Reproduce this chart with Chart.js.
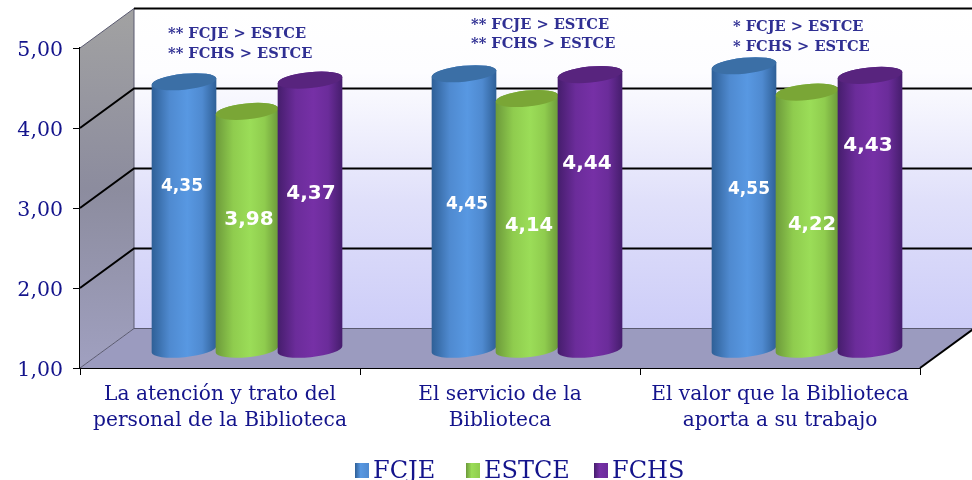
<!DOCTYPE html>
<html><head><meta charset="utf-8">
<style>html,body{margin:0;padding:0;background:#fff}#box{width:972px;height:480px;position:relative}</style>
<script src="https://cdn.jsdelivr.net/npm/chart.js@4/dist/chart.umd.min.js"></script>
</head><body><div id="box"><canvas id="c" width="972" height="480"></canvas></div>
<script>
const categories = [
  ["La atención y trato del","personal de la Biblioteca"],
  ["El servicio de la","Biblioteca"],
  ["El valor que la Biblioteca","aporta a su trabajo"]
];
const FCJE  = [4.35,4.45,4.55];
const ESTCE = [3.98,4.14,4.22];
const FCHS  = [4.37,4.44,4.43];
const yTicks = [1,2,3,4,5];
const notes = [
  ["** FCJE > ESTCE","** FCHS > ESTCE"],
  ["** FCJE > ESTCE","** FCHS > ESTCE"],
  ["* FCJE > ESTCE","* FCHS > ESTCE"]
];

const fmt = v => v.toFixed(2).replace('.',',');
const NAVY = '#14148c';
const SERIF = '"DejaVu Serif"';
const DEPTH_X = 54, DEPTH_Y = -39.5;
const styles = [
  {edge:'#2e5f96',mid:'#4f8ad0',hi:'#5898e2',cap:'#3b6fa6',grow:1},
  {edge:'#6c993a',mid:'#8fcc4e',hi:'#9bdd58',cap:'#7aa636',grow:0},
  {edge:'#451d6c',mid:'#6b2c9a',hi:'#7630a6',cap:'#58247e',grow:1}
];
// label placement relative to each bar's top, per dataset then per category
const labelShift = [
  [[-2,104.5],[3,130.5],[5,123.5]],
  [[2,108.5],[2,127.5],[5,132.5]],
  [[1,113.5],[-3,89.5],[-2,70.5]]
];
const labelSize = [[17,17,17],[20,19.5,19.5],[20,20,20]];
const noteAnchor = [[168,34,54],[471,25,44.5],[733,27,47]];
const legendAt = [355,466,594];

const room = {
  id:'room',
  beforeDatasetsDraw(chart){
    const {ctx,chartArea:a,scales:{x,y}} = chart;
    const dx = DEPTH_X, dy = DEPTH_Y;
    const T = y.getPixelForValue(5), B = y.getPixelForValue(1);
    ctx.save();
    // back wall
    let g = ctx.createLinearGradient(0,T+dy,0,B+dy);
    g.addColorStop(0,'#ffffff'); g.addColorStop(0.2,'#fdfdff');
    g.addColorStop(0.6,'#e0e0fa'); g.addColorStop(1,'#cdcdf8');
    ctx.fillStyle = g;
    ctx.fillRect(a.left+dx,T+dy,a.right-a.left,B-T);
    // side wall
    g = ctx.createLinearGradient(0,T+dy,0,B);
    g.addColorStop(0,'#a2a2a2'); g.addColorStop(0.5,'#8c8c9e'); g.addColorStop(1,'#a0a0c0');
    ctx.fillStyle = g;
    ctx.beginPath();
    ctx.moveTo(a.left,T); ctx.lineTo(a.left+dx,T+dy); ctx.lineTo(a.left+dx,B+dy); ctx.lineTo(a.left,B);
    ctx.closePath(); ctx.fill();
    // floor
    ctx.fillStyle = '#9b9bbf';
    ctx.beginPath();
    ctx.moveTo(a.left,B); ctx.lineTo(a.left+dx,B+dy); ctx.lineTo(a.right+dx,B+dy); ctx.lineTo(a.right,B);
    ctx.closePath(); ctx.fill();
    // thin edges
    ctx.strokeStyle = '#5a5a70'; ctx.lineWidth = 1;
    ctx.beginPath();
    ctx.moveTo(a.left,T); ctx.lineTo(a.left+dx,T+dy); ctx.lineTo(a.left+dx,B+dy);
    ctx.moveTo(a.left,B); ctx.lineTo(a.left+dx,B+dy); ctx.lineTo(a.right+dx,B+dy);
    ctx.stroke();
    // grid lines
    ctx.strokeStyle = '#000'; ctx.lineWidth = 2;
    yTicks.forEach(v=>{
      if(v===1) return;
      const p = y.getPixelForValue(v);
      ctx.beginPath();
      if(v<5){ ctx.moveTo(a.left,p); ctx.lineTo(a.left+dx,p+dy); } else { ctx.moveTo(a.left+dx,p+dy); }
      ctx.lineTo(a.right+dx,p+dy);
      ctx.stroke();
    });
    // right floor edge
    ctx.beginPath(); ctx.moveTo(a.right,B); ctx.lineTo(a.right+dx,B+dy); ctx.stroke();
    // cylinders
    const ry = 8, rot = -0.1;
    chart.data.datasets.forEach((ds,i)=>{
      const st = styles[i];
      chart.getDatasetMeta(i).data.forEach(el=>{
        const cx = el.x+dx/2, top = el.y+dy/2+1.5, bot = el.base+dy/2+1.5, rx = el.width/2+st.grow;
        const gr = ctx.createLinearGradient(cx-rx,0,cx+rx,0);
        gr.addColorStop(0,st.edge); gr.addColorStop(0.28,st.mid); gr.addColorStop(0.55,st.hi);
        gr.addColorStop(0.78,st.mid); gr.addColorStop(1,st.edge);
        ctx.fillStyle = gr;
        ctx.beginPath();
        ctx.ellipse(cx,bot,rx,ry,rot,0,Math.PI);
        ctx.ellipse(cx,top,rx,ry,rot,Math.PI,2*Math.PI);
        ctx.closePath(); ctx.fill();
        ctx.fillStyle = st.cap;
        ctx.beginPath(); ctx.ellipse(cx,top,rx,ry,rot,0,2*Math.PI); ctx.fill();
      });
    });
    ctx.restore();
  },
  beforeDatasetDraw(){ return false; },
  afterDatasetsDraw(chart){
    const {ctx} = chart;
    ctx.save();
    ctx.textAlign='center'; ctx.textBaseline='middle'; ctx.fillStyle='#fff';
    chart.data.datasets.forEach((ds,i)=>{
      chart.getDatasetMeta(i).data.forEach((el,j)=>{
        const [sx,sy] = labelShift[i][j];
        ctx.font = 'bold '+labelSize[i][j]+'px "DejaVu Sans"';
        ctx.fillText(fmt(ds.data[j]), el.x+DEPTH_X/2+sx, el.y+DEPTH_Y/2+sy+1.5);
      });
    });
    ctx.textAlign='left'; ctx.fillStyle='#2f2f93';
    ctx.font = 'bold 14.6px '+SERIF;
    notes.forEach((n,k)=>{
      const [nx,y1,y2] = noteAnchor[k];
      ctx.fillText(n[0],nx,y1); ctx.fillText(n[1],nx,y2);
    });
    // legend
    ctx.font = '24px '+SERIF;
    chart.data.datasets.forEach((ds,i)=>{
      const st = styles[i], bx = legendAt[i];
      const gr = ctx.createLinearGradient(bx,0,bx+14,0);
      gr.addColorStop(0,st.edge); gr.addColorStop(0.4,st.hi); gr.addColorStop(1,st.mid);
      ctx.fillStyle = gr;
      ctx.fillRect(bx,463,14,15);
      ctx.fillStyle = NAVY;
      ctx.fillText(ds.label,bx+18,472);
    });
    ctx.restore();
  }
};

new Chart(document.getElementById('c'),{
  type:'bar',
  data:{labels:categories,datasets:[
    {label:'FCJE',data:FCJE,base:1,backgroundColor:'#4f8ad0'},
    {label:'ESTCE',data:ESTCE,base:1,backgroundColor:'#8fcc4e'},
    {label:'FCHS',data:FCHS,base:1,backgroundColor:'#6b2c9a'}
  ]},
  plugins:[room],
  options:{
    responsive:false,animation:false,
    categoryPercentage:0.675,barPercentage:1,
    layout:{padding:{top:48,right:52,left:0,bottom:0}},
    plugins:{tooltip:{enabled:false},legend:{display:false}},
    scales:{
      x:{
        afterFit(s){s.height=112;},
        grid:{drawOnChartArea:false,drawTicks:true,tickLength:7,color:'#000',offset:true},
        border:{color:'#000',width:2},
        ticks:{color:NAVY,font:{family:SERIF,size:20.2,lineHeight:1.287},padding:7,maxRotation:0,autoSkip:false}
      },
      y:{
        min:1,max:5,
        afterFit(s){s.width=80;},
        afterBuildTicks(s){s.ticks=yTicks.map(v=>({value:v}));},
        grid:{drawOnChartArea:false,tickLength:7,color:'#000'},
        border:{color:'#000',width:2},
        ticks:{color:NAVY,font:{family:SERIF,size:20.5},padding:10,labelOffset:2.5,callback:fmt}
      }
    }
  }
});
</script></body></html>
